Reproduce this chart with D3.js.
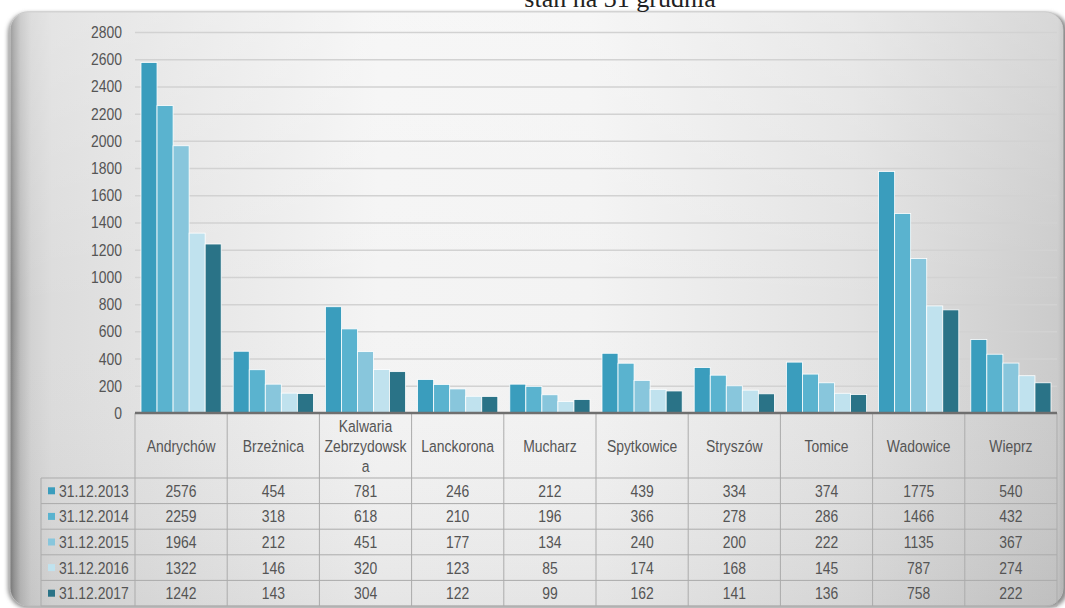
<!DOCTYPE html>
<html>
<head>
<meta charset="utf-8">
<script src="https://cdn.jsdelivr.net/npm/d3@7"></script>
<style>
  html, body { margin: 0; padding: 0; background: #fff; }
  svg { display: block; }
  text { font-family: "Liberation Sans", Arial, sans-serif; fill: #555; font-size: 17px; }
</style>
</head>
<body>
<div id="chart"></div>
<script>
// --- data ---
const categories = ["Andrychów", "Brzeżnica", "Kalwaria Zebrzydowska", "Lanckorona", "Mucharz",
                    "Spytkowice", "Stryszów", "Tomice", "Wadowice", "Wieprz"];
const seriesNames = ["31.12.2013", "31.12.2014", "31.12.2015", "31.12.2016", "31.12.2017"];
const v2013 = [2576, 454, 781, 246, 212, 439, 334, 374, 1775, 540];
const v2014 = [2259, 318, 618, 210, 196, 366, 278, 286, 1466, 432];
const v2015 = [1964, 212, 451, 177, 134, 240, 200, 222, 1135, 367];
const v2016 = [1322, 146, 320, 123, 85, 174, 168, 145, 787, 274];
const v2017 = [1242, 143, 304, 122, 99, 162, 141, 136, 758, 222];
const seriesValues = [v2013, v2014, v2015, v2016, v2017];
const yTicks = [0, 200, 400, 600, 800, 1000, 1200, 1400, 1600, 1800, 2000, 2200, 2400, 2600, 2800];
const titleText = "stan na 31 grudnia";

const colors = ["#3a9dbd", "#5ab3cf", "#88c6dc", "#c0e2ee", "#2a7387"];

const W = 1065, H = 608;
const plot = { left: 135, right: 1057, top: 32, zero: 413 };
const tableLeft = 41, headerBottom = 478, rowH = 25.6;
const SX = 0.82; // narrow look of the original font

const svg = d3.select("#chart").append("svg").attr("width", W).attr("height", H);
const defs = svg.append("defs");

// narrow text helper: scale horizontally around the anchor point
function narrow(parent, x, y, str, anchor) {
  return parent.append("text")
    .attr("transform", `translate(${x},${y}) scale(${SX},1)`)
    .attr("text-anchor", anchor || "start")
    .text(str);
}

// panel background
const hg = defs.append("linearGradient").attr("id", "hg");
[["0%", "#7c7c7c"], ["0.4%", "#9a9a9a"], ["1%", "#bcbcbc"], ["2%", "#d2d2d2"], ["4%", "#dcdcdc"],
 ["35%", "#f4f4f4"], ["55%", "#f3f3f3"], ["80%", "#e2e2e2"], ["99.5%", "#cbcbcb"], ["100%", "#bdbdbd"]]
  .forEach(([o, c]) => hg.append("stop").attr("offset", o).attr("stop-color", c));
const vg = defs.append("linearGradient").attr("id", "vg").attr("x2", 0).attr("y2", 1);
vg.append("stop").attr("offset", "0%").attr("stop-color", "#fff").attr("stop-opacity", 0.25);
vg.append("stop").attr("offset", "50%").attr("stop-color", "#fff").attr("stop-opacity", 0);
vg.append("stop").attr("offset", "100%").attr("stop-color", "#000").attr("stop-opacity", 0.06);
defs.append("filter").attr("id", "blur").attr("x", "-5%").attr("y", "-5%").attr("width", "110%").attr("height", "110%")
  .append("feGaussianBlur").attr("stdDeviation", 2);

svg.append("rect").attr("x", 8).attr("y", 13).attr("width", 1060).attr("height", 595)
  .attr("rx", 20).attr("fill", "#8a8a8a").attr("filter", "url(#blur)");
svg.append("rect").attr("x", 10).attr("y", 12).attr("width", 1053).attr("height", 594)
  .attr("rx", 18).attr("fill", "url(#hg)").attr("stroke", "#c4c4c4").attr("stroke-width", 1);
svg.append("rect").attr("x", 10).attr("y", 12).attr("width", 1053).attr("height", 594)
  .attr("rx", 18).attr("fill", "url(#vg)");

// title (cut off by the top edge, as in the original)
svg.append("text").attr("x", 620).attr("y", 7).attr("text-anchor", "middle")
  .style("font-family", "'Liberation Serif', 'Times New Roman', serif").style("font-size", "26px")
  .style("fill", "#222").text(titleText);

// scales
const x0 = d3.scaleBand().domain(categories).range([plot.left, plot.right]);
const x1 = d3.scaleBand().domain(seriesNames).range([6, x0.bandwidth() - 6]);
const y = d3.scaleLinear().domain([0, 2800]).range([plot.zero, plot.top]);

// gridlines
svg.append("g").attr("transform", `translate(${plot.left},0)`)
  .call(d3.axisLeft(y).tickValues(yTicks.slice(1)).tickSize(-(plot.right - plot.left)).tickFormat(""))
  .call(g => g.select(".domain").remove())
  .call(g => g.selectAll("line").attr("stroke", "#d2d2d2").attr("stroke-width", 1.5));

// y labels
svg.append("g").attr("transform", `translate(${plot.left - 13},0)`)
  .call(d3.axisLeft(y).tickValues(yTicks).tickSize(0).tickPadding(0).tickFormat(d3.format("d")))
  .call(g => g.select(".domain").remove())
  .call(g => g.selectAll("text").attr("x", null).attr("transform", `scale(${SX},1)`)
    .style("font-size", "17px").style("font-family", "'Liberation Sans', Arial, sans-serif").attr("fill", "#555"));

// bars
const groups = svg.append("g").selectAll("g").data(categories).join("g")
  .attr("transform", d => `translate(${x0(d)},0)`);
groups.selectAll("rect")
  .data((c, i) => seriesNames.map((s, k) => ({ s, k, v: seriesValues[k][i] })))
  .join("rect")
  .attr("x", d => x1(d.s))
  .attr("y", d => y(d.v))
  .attr("width", x1.bandwidth())
  .attr("height", d => y(0) - y(d.v))
  .attr("fill", d => colors[d.k])
  .attr("stroke", "#fff").attr("stroke-width", 0.8);

// data table
const tbl = svg.append("g");
const lineCol = "#ababab";
for (let k = 0; k <= seriesNames.length; k++) {
  const yy = headerBottom + k * rowH;
  tbl.append("line").attr("x1", tableLeft).attr("x2", plot.right).attr("y1", yy).attr("y2", yy)
    .attr("stroke", lineCol).attr("stroke-width", 1);
}
const cuts = categories.map(c => x0(c)).concat([plot.right]);
cuts.forEach(cx => tbl.append("line").attr("x1", cx).attr("x2", cx)
  .attr("y1", plot.zero).attr("y2", headerBottom + seriesNames.length * rowH)
  .attr("stroke", lineCol).attr("stroke-width", 1));
tbl.append("line").attr("x1", tableLeft).attr("x2", tableLeft)
  .attr("y1", headerBottom).attr("y2", headerBottom + seriesNames.length * rowH)
  .attr("stroke", lineCol).attr("stroke-width", 1);

// header labels, wrapped to the cell width
const maxW = (x0.bandwidth() - 4) / SX;
categories.forEach(c => {
  const cx = x0(c) + x0.bandwidth() / 2;
  const probe = tbl.append("text");
  const fits = s => { probe.text(s); return probe.node().getComputedTextLength() <= maxW; };
  const lines = [];
  let cur = "";
  c.split(" ").forEach(word => {
    const trial = cur ? cur + " " + word : word;
    if (fits(trial)) { cur = trial; return; }
    if (cur) { lines.push(cur); cur = ""; }
    let piece = "";
    for (const ch of word) {
      if (!fits(piece + ch) && piece) { lines.push(piece); piece = ch; }
      else piece += ch;
    }
    cur = piece;
  });
  if (cur) lines.push(cur);
  probe.remove();
  const lh = 20, cy = (plot.zero + headerBottom) / 2 + 6;
  lines.forEach((ln, i) => narrow(tbl, cx, cy + (i - (lines.length - 1) / 2) * lh, ln, "middle"));
});

// rows: legend key + values
seriesNames.forEach((s, k) => {
  const cy = headerBottom + k * rowH + rowH / 2;
  tbl.append("rect").attr("x", 48).attr("y", cy - 3.5).attr("width", 7).attr("height", 7).attr("fill", colors[k]);
  narrow(tbl, 59, cy + 6, s, "start");
  categories.forEach((c, i) => {
    narrow(tbl, x0(c) + x0.bandwidth() / 2, cy + 6, seriesValues[k][i], "middle");
  });
});

// zero axis line
svg.append("line").attr("x1", plot.left).attr("x2", plot.right).attr("y1", y(0)).attr("y2", y(0))
  .attr("stroke", "#6f6f6f").attr("stroke-width", 2.5);
</script>
</body>
</html>
